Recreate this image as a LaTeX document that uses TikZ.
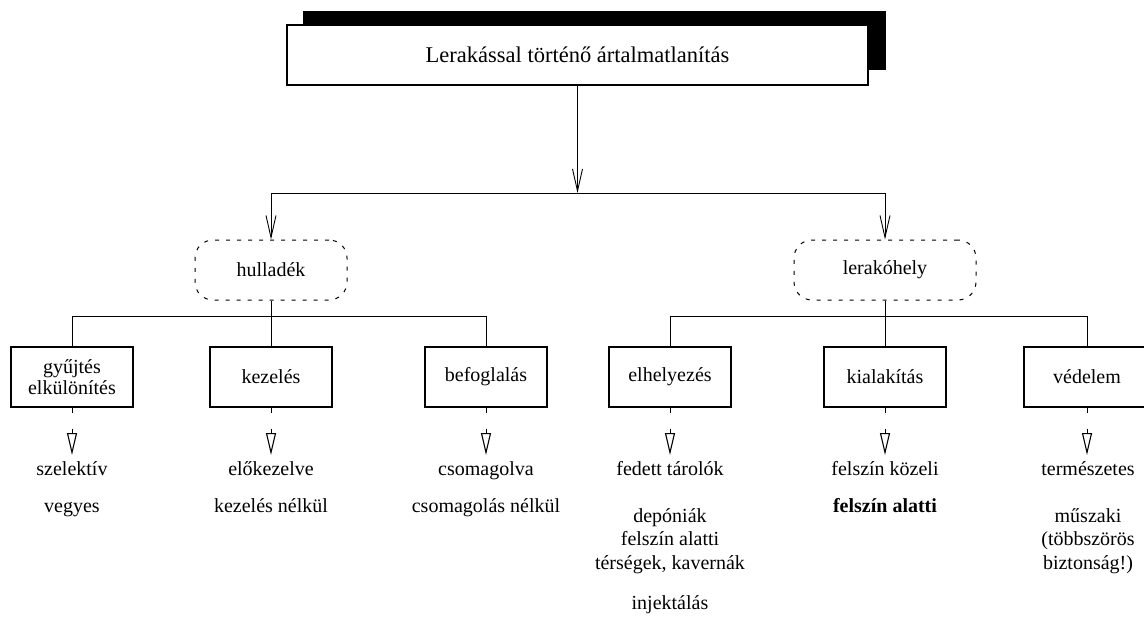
\documentclass[tikz,border=0pt]{standalone}
\usepackage{fontspec}
\setmainfont{Liberation Serif}
\usetikzlibrary{arrows.meta}
\begin{document}
\begin{tikzpicture}[x=1pt,y=-1pt,
  every node/.style={font=\fontsize{20}{22}\selectfont},
  box/.style={draw,line width=1.2pt,minimum width=122pt,minimum height=60pt,inner sep=0pt,align=center,fill=white},
  dbox/.style={draw,dash pattern=on 4pt off 7pt,line width=1pt,rounded corners=18pt,inner sep=0pt,minimum height=60pt},
  link/.style={line width=0.9pt},
  varrow/.style={link,-{Straight Barb[length=22pt,width=10pt]}},
  tarrow/.style={link,dash pattern=on 5pt off 16pt on 100pt,-{Triangle[open,length=22pt,width=10pt,line width=1.1pt]}},
  lbl/.style={inner sep=0pt,anchor=base}
]
\useasboundingbox (0,0) rectangle (1144,637);

% title with shadow
\fill (303,11) rectangle (886,70);
\node[box,minimum width=581pt,minimum height=60pt,font=\fontsize{22.5}{24}\selectfont] (title) at (577.5,55) {Lerakással történő ártalmatlanítás};

% dashed category boxes
\node[dbox,minimum width=152pt] (hull) at (271,270) {hulladék};
\node[dbox,minimum width=182pt] (lera) at (885,270) {lerakóhely};

\coordinate (hl) at (271,193);
\coordinate (hr) at (885,193);
\draw[varrow] (title.south) -- (title.south |- hl);
\draw[link] (hl) -- (hr);
\draw[varrow] (hl) -- (hull.north);
\draw[varrow] (hr) -- (lera.north);

% boxes
\node[box] (b1) at (72,377) {gyűjtés\\[-1pt]elkülönítés};
\node[box] (b2) at (271,377) {kezelés};
\node[box] (b3) at (486,377) {befoglalás};
\node[box] (r1) at (670,377) {elhelyezés};
\node[box] (r2) at (885,377) {kialakítás};
\node[box,minimum width=126pt] (r3) at (1087,377) {védelem};

\draw[link] (hull.south) -- (b2.north);
\draw[link] (b1.north) -- ++(0,-30) -| (b3.north);
\draw[link] (lera.south) -- (r2.north);
\draw[link] (r1.north) -- ++(0,-30) -| (r3.north);

% arrow tips
\coordinate (t1) at (72,455);
\coordinate (t2) at (271,455);
\coordinate (t3) at (486,455);
\coordinate (t4) at (670,455);
\coordinate (t5) at (885,455);
\coordinate (t6) at (1087,455);
\draw[tarrow] (b1.south) -- (t1);
\draw[tarrow] (b2.south) -- (t2);
\draw[tarrow] (b3.south) -- (t3);
\draw[tarrow] (r1.south) -- (t4);
\draw[tarrow] (r2.south) -- (t5);
\draw[tarrow] (r3.south) -- (t6);

% item texts
\node[lbl] (s1a) at (72,475) {szelektív};
\node[lbl] (s1b) at (72,512) {vegyes};
\node[lbl] (s2a) at (271,475) {előkezelve};
\node[lbl] (s2b) at (271,512) {kezelés nélkül};
\node[lbl] (s3a) at (486,475) {csomagolva};
\node[lbl] (s3b) at (486,512) {csomagolás nélkül};
\node[lbl] (s4a) at (670,475) {fedett tárolók};
\node[lbl] (s4b) at (670,522) {depóniák};
\node[lbl] (s4c) at (670,545.5) {felszín alatti};
\node[lbl] (s4d) at (670,569) {térségek, kavernák};
\node[lbl] (s4e) at (670,609) {injektálás};
\node[lbl] (s5a) at (885,475) {felszín közeli};
\node[lbl,font=\fontsize{20}{22}\selectfont\bfseries] (s5b) at (885,512) {felszín alatti};
\node[lbl] (s6a) at (1088,475) {természetes};
\node[lbl] (s6b) at (1088,522) {műszaki};
\node[lbl] (s6c) at (1088,545.5) {(többszörös};
\node[lbl] (s6d) at (1088,569) {biztonság!)};
\end{tikzpicture}
\end{document}
